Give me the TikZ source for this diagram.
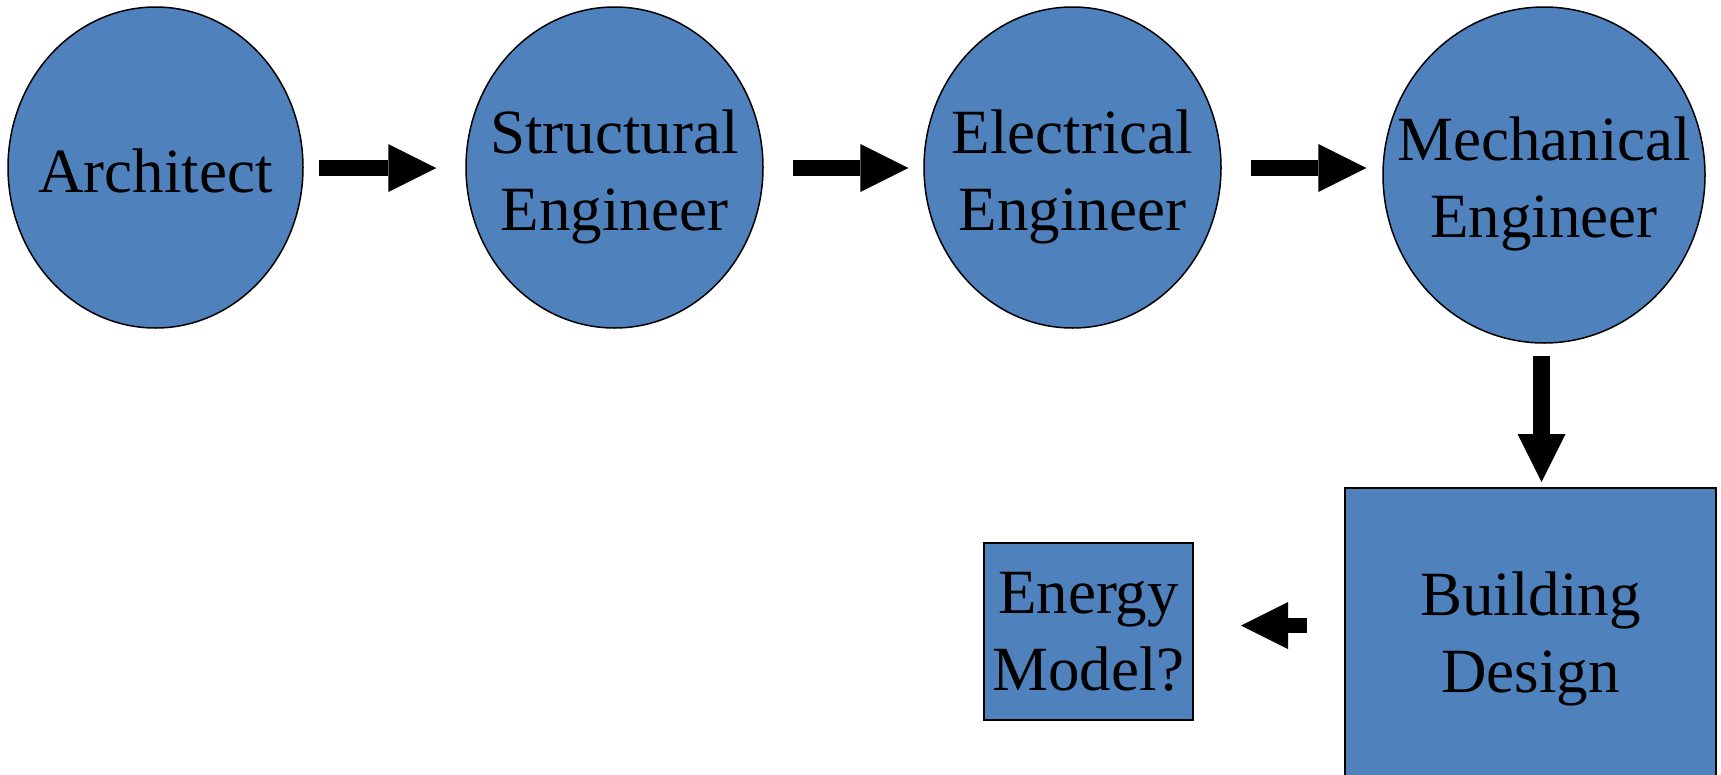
\documentclass[tikz,border=0pt]{standalone}
\usepackage{fontspec}
\setmainfont{Liberation Serif}
\usetikzlibrary{shapes.geometric,arrows.meta}
\definecolor{bluefill}{HTML}{4F81BD}
\tikzset{
  bubble/.style={ellipse, draw=black, line width=1.5pt, fill=bluefill, inner sep=0pt},
  txt/.style={align=center, inner sep=0pt, font=\fontsize{63}{77}\selectfont},
  blockbox/.style={rectangle, draw=black, line width=2pt, fill=bluefill, inner sep=0pt, align=center, font=\fontsize{63}{77}\selectfont},
  blockarrow/.style={line width=16pt, -{Triangle[length=48pt,width=48pt,line width=0pt]}},
}
\begin{document}
\begin{tikzpicture}[x=1pt,y=-1pt]
\useasboundingbox (0,0) rectangle (1721,774);
\clip (0,0) rectangle (1721,774);
\fill[white] (0,0) rectangle (1721,774);
% circles
\node[bubble, minimum width=295, minimum height=321] (arch) at (155.5,167.5) {};
\node[txt] (archT) at (155.5,170.5) {Architect};
\node[bubble, minimum width=297, minimum height=321] (struct) at (614.5,167.5) {};
\node[txt] (structT) at (614.5,177) {Structural\\Engineer};
\node[bubble, minimum width=297, minimum height=321] (elec) at (1072.5,167.5) {};
\node[txt] (elecT) at (1072.5,177) {Electrical\\Engineer};
\node[bubble, minimum width=322, minimum height=336] (mech) at (1544,175) {};
\node[txt] (mechT) at (1544,184) {Mechanical\\Engineer};
% boxes
\node[blockbox, minimum width=371, minimum height=302] (build) at (1530.5,639) {Building\\Design};
\node[blockbox, minimum width=209, minimum height=177] (energy) at (1088.5,631.5) {Energy\\Model?};
% arrows
\draw[blockarrow, shorten <=15pt, shorten >=29pt] ([yshift=-0.5pt]arch.east) -- ([yshift=-0.5pt]struct.west);
\draw[blockarrow, shorten <=29pt, shorten >=15pt] ([yshift=-0.5pt]struct.east) -- ([yshift=-0.5pt]elec.west);
\draw[blockarrow, shorten <=29pt, shorten >=16pt] ([yshift=-0.5pt]elec.east) -- ([yshift=-0.5pt]elec.east -| mech.west);
\draw[line width=17pt, -{Triangle[length=48pt,width=48pt,line width=0pt]}, shorten <=12pt, shorten >=5pt]
  ([xshift=-2.5pt]mech.south) -- ([xshift=-2.5pt]mech.south |- build.north);
\draw[line width=15pt, -{Triangle[length=47pt,width=47pt,line width=0pt]}, shorten <=37pt, shorten >=47pt]
  ([yshift=13.5pt]build.west) -- ([yshift=13.5pt]build.west -| energy.east);
\end{tikzpicture}
\end{document}
